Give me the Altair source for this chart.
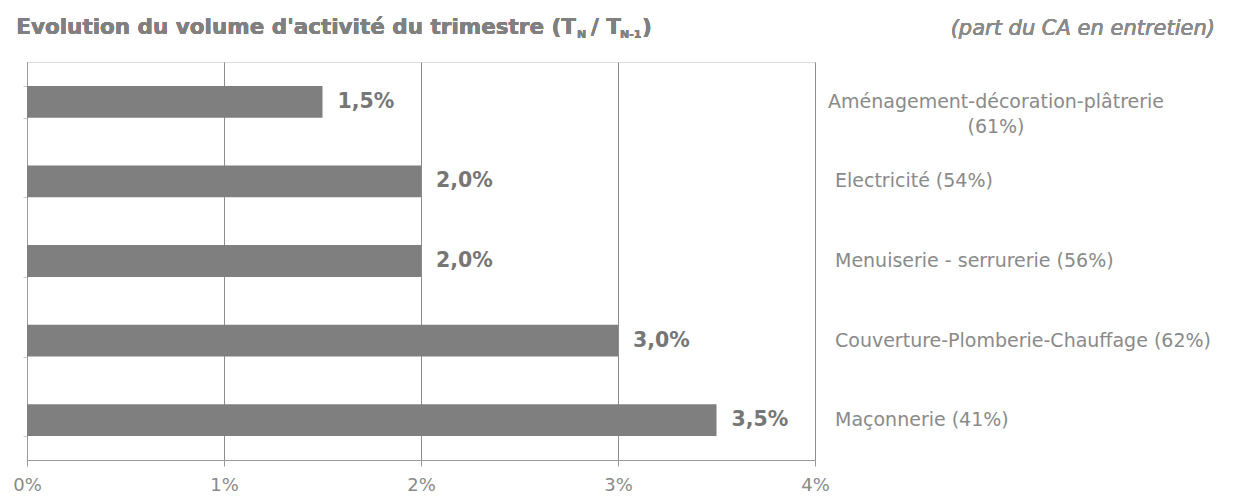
import altair as alt
import pandas as pd

categories = [
    "Aménagement-décoration-plâtrerie",
    "Electricité",
    "Menuiserie - serrurerie",
    "Couverture-Plomberie-Chauffage",
    "Maçonnerie",
]
label_lines = [
    ["Aménagement-décoration-plâtrerie", "(61%)"],
    ["Electricité (54%)"],
    ["Menuiserie - serrurerie (56%)"],
    ["Couverture-Plomberie-Chauffage (62%)"],
    ["Maçonnerie (41%)"],
]
values = [1.5, 2.0, 2.0, 3.0, 3.5]
x_ticks = [0, 1, 2, 3, 4]

df = pd.DataFrame({
    "cat": categories,
    "val": values,
    "txt": [f"{v:.1f}%".replace(".", ",") for v in values],
    "lines": label_lines,
    "first": [i == 0 for i in range(len(categories))],
})

GREY = "#7f7f7f"
TXT = "#8a8a8a"

y_enc = alt.Y(
    "cat:N",
    sort=categories,
    scale=alt.Scale(paddingInner=0.6, paddingOuter=0.3),
    axis=alt.Axis(
        title=None, labels=False, domainColor="#9a9a9a", tickColor="#c8c8c8",
        tickSize=4, tickBand="extent", grid=False,
    ),
)
x_enc = alt.X(
    "val:Q",
    scale=alt.Scale(domain=[0, 4], nice=False),
    axis=alt.Axis(
        title=None, values=x_ticks, labelExpr="datum.value + '%'",
        grid=True, gridColor="#8c8c8c", gridWidth=1,
        domainColor="#9a9a9a", tickColor="#9a9a9a", tickSize=6,
        labelFont="DejaVu Sans", labelFontSize=18, labelColor=TXT,
        labelPadding=10, labelFlush=False,
    ),
)

bars = alt.Chart(df).mark_bar(color=GREY).encode(x=x_enc, y=y_enc)

vals = alt.Chart(df).mark_text(
    align="left", dx=15, font="DejaVu Sans", fontWeight="bold",
    fontSize=20.5, color="#767676", baseline="middle",
).encode(x="val:Q", y=alt.Y("cat:N", sort=categories), text="txt:N")

cats_left = alt.Chart(df).transform_filter("!datum.first").mark_text(
    align="left", baseline="middle", font="DejaVu Sans", fontSize=19, color=TXT,
).encode(x=alt.value(808), y=alt.Y("cat:N", sort=categories), text="lines")

cats_center = alt.Chart(df).transform_filter("datum.first").mark_text(
    align="center", baseline="middle", font="DejaVu Sans", fontSize=19, color=TXT,
    lineHeight=25,
).encode(x=alt.value(969), y=alt.Y("cat:N", sort=categories), text="lines")

TF = dict(font="DejaVu Sans", fontWeight="bold", color="#808080")
title_parts = [
    alt.Chart(df).mark_text(text="Evolution du volume d'activité du trimestre (T", align="right",
                            baseline="alphabetic", fontSize=21.5, **TF).encode(x=alt.value(549), y=alt.value(-28)),
    alt.Chart(df).mark_text(text="N", align="left", baseline="alphabetic", fontSize=11, **TF
                            ).encode(x=alt.value(550), y=alt.value(-24)),
    alt.Chart(df).mark_text(text="/ T", align="left", baseline="alphabetic", fontSize=21.5, **TF
                            ).encode(x=alt.value(564), y=alt.value(-28)),
    alt.Chart(df).mark_text(text="N-1", align="left", baseline="alphabetic", fontSize=11, **TF
                            ).encode(x=alt.value(593), y=alt.value(-24)),
    alt.Chart(df).mark_text(text=")", align="left", baseline="alphabetic", fontSize=21.5, **TF
                            ).encode(x=alt.value(615), y=alt.value(-28)),
    alt.Chart(df).mark_text(text="(part du CA en entretien)", align="right", baseline="alphabetic",
                            font="DejaVu Sans", fontStyle="italic", fontWeight="normal",
                            fontSize=21, color="#8a8a8a"
                            ).encode(x=alt.value(1188), y=alt.value(-27)),
]

chart = alt.layer(bars, vals, cats_left, cats_center, *title_parts).properties(
    width=788, height=398,
    autosize=alt.AutoSizeParams(type="none"),
    padding={"left": 19, "top": 54, "right": 415, "bottom": 37},
).configure_view(stroke=None).configure(background="white")

chart.save("out.html", embed_options={"renderer": "svg", "actions": False})
